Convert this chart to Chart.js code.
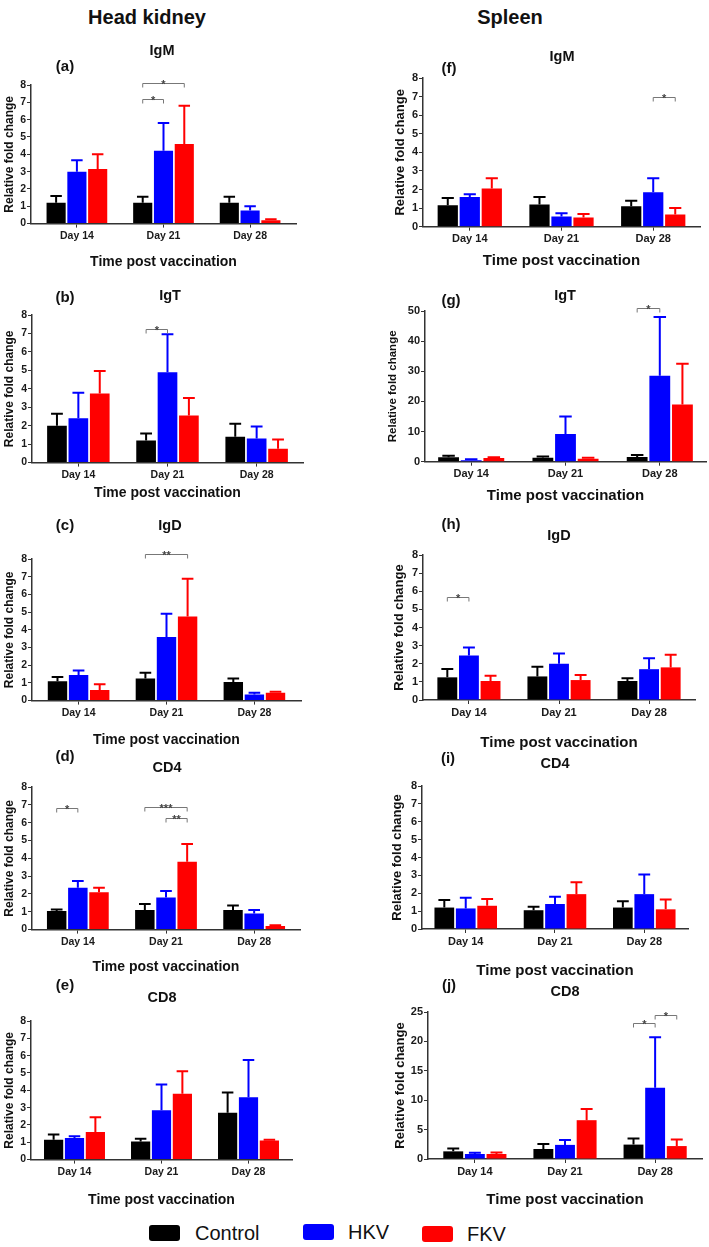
<!DOCTYPE html>
<html>
<head>
<meta charset="utf-8">
<script src="https://cdn.jsdelivr.net/npm/chart.js@4.4.0/dist/chart.umd.min.js"></script>
<style>
  body { margin: 0; background: #fff; font-family: Arial, 'Liberation Sans', sans-serif; }
  #page { position: relative; width: 709px; height: 1247px; overflow: hidden; background: #fff; }
  #page canvas { position: absolute; }
  .lbl { position: absolute; transform: translate(-50%, -50%); font-weight: bold; white-space: nowrap; color: #111; }
  .head { font-size: 20px; }
  .gene { font-size: 14.5px; }
  .letter { font-size: 15px; }
  .key { position: absolute; width: 31px; height: 16px; border-radius: 3px; }
  .keytxt { position: absolute; font-size: 20px; color: #111; transform: translateY(-50%); }
</style>
</head>
<body>
<div id="page"></div>
<script>
// ---- data (rows: Control, HKV, FKV; columns: Day 14, Day 21, Day 28) ----
const days = ['Day 14', 'Day 21', 'Day 28'];
const groups = ['Control', 'HKV', 'FKV'];

// head kidney
const hkIgM    = [[1.2, 1.2, 1.2], [3.0, 4.2, 0.75], [3.15, 4.6, 0.2]];
const hkIgMTop = [[1.6, 1.55, 1.55], [3.65, 5.8, 1.0], [4.0, 6.8, 0.25]];
const hkIgT    = [[2.0, 1.2, 1.4], [2.4, 4.9, 1.3], [3.75, 2.55, 0.75]];
const hkIgTTop = [[2.65, 1.58, 2.1], [3.78, 6.95, 1.95], [4.97, 3.5, 1.25]];
const hkIgD    = [[1.1, 1.25, 1.05], [1.45, 3.6, 0.35], [0.6, 4.75, 0.45]];
const hkIgDTop = [[1.33, 1.58, 1.25], [1.7, 4.9, 0.45], [0.93, 6.88, 0.5]];
const hkCD4    = [[1.05, 1.1, 1.1], [2.35, 1.8, 0.9], [2.1, 3.8, 0.2]];
const hkCD4Top = [[1.13, 1.43, 1.35], [2.73, 2.17, 1.1], [2.35, 4.8, 0.25]];
const hkCD8    = [[1.15, 1.05, 2.7], [1.25, 2.85, 3.6], [1.6, 3.8, 1.1]];
const hkCD8Top = [[1.45, 1.2, 3.87], [1.35, 4.33, 5.75], [2.45, 5.1, 1.15]];

// spleen
const spIgM    = [[1.15, 1.2, 1.1], [1.6, 0.55, 1.85], [2.05, 0.5, 0.65]];
const spIgMTop = [[1.55, 1.6, 1.4], [1.75, 0.72, 2.6], [2.6, 0.68, 1.0]];
const spIgT    = [[1.5, 1.3, 1.6], [0.5, 9.2, 28.5], [1.2, 1.0, 19.0]];
const spIgTTop = [[2.0, 1.7, 2.2], [0.8, 15.0, 48.0], [1.5, 1.3, 32.5]];
const spIgD    = [[1.25, 1.3, 1.05], [2.45, 2.0, 1.7], [1.05, 1.1, 1.8]];
const spIgDTop = [[1.71, 1.84, 1.2], [2.89, 2.57, 2.3], [1.34, 1.38, 2.5]];
const spCD4    = [[1.2, 1.05, 1.2], [1.15, 1.4, 1.95], [1.3, 1.95, 1.1]];
const spCD4Top = [[1.62, 1.25, 1.55], [1.75, 1.81, 3.05], [1.68, 2.61, 1.65]];
const spCD8    = [[1.3, 1.7, 2.45], [0.85, 2.4, 12.1], [0.85, 6.6, 2.2]];
const spCD8Top = [[1.8, 2.55, 3.5], [1.08, 3.25, 20.7], [1.1, 8.5, 3.3]];

// significance brackets: [day index, group a, group b, bracket height, label]
const hkIgMSig = [[1, 0, 1, 7.2, '*'], [1, 0, 2, 8.1, '*']];
const hkIgTSig = [[1, 0, 1, 7.25, '*']];
const hkIgDSig = [[1, 0, 2, 8.3, '**']];
const hkCD4Sig = [[0, 0, 1, 6.8, '*'], [1, 0, 2, 6.9, '***'], [1, 1, 2, 6.25, '**']];
const spIgMSig = [[2, 1, 2, 7.0, '*']];
const spIgTSig = [[2, 0, 1, 51, '*']];
const spIgDSig = [[0, 0, 1, 5.7, '*']];
const spCD8Sig = [[2, 0, 1, 23.2, '*'], [2, 1, 2, 24.5, '*']];

// y-axis ranges
const yMaxes = { a: 8, b: 8, c: 8, d: 8, e: 8, f: 8, g: 50, h: 8, i: 8, j: 25 };
const ySteps = { a: 1, b: 1, c: 1, d: 1, e: 1, f: 1, g: 5, h: 1, i: 1, j: 5 };

const colors = ['#000000', '#0000ff', '#ff0000'];

// ---- panel layout ----
const panels = [
  { id: 'a', gene: 'IgM', mean: hkIgM, top: hkIgMTop, sig: hkIgMSig, axisX: 31, yTop: 85, yZero: 223, xTitleY: 262, spacing: 86.5, lo: 0.53, W: 29, side: 'L', geneXY: [162, 50], letterXY: [65, 65] },
  { id: 'b', gene: 'IgT', mean: hkIgT, top: hkIgTTop, sig: hkIgTSig, axisX: 32, yTop: 315, yZero: 462, xTitleY: 493, spacing: 89, lo: 0.52, W: 30, side: 'L', geneXY: [170, 295], letterXY: [65, 296] },
  { id: 'c', gene: 'IgD', mean: hkIgD, top: hkIgDTop, sig: hkIgDSig, axisX: 32, yTop: 559, yZero: 700, xTitleY: 740, spacing: 87.7, lo: 0.53, W: 30, side: 'L', geneXY: [170, 525], letterXY: [65, 524] },
  { id: 'd', gene: 'CD4', mean: hkCD4, top: hkCD4Top, sig: hkCD4Sig, axisX: 32, yTop: 787, yZero: 929, xTitleY: 967, spacing: 88, lo: 0.52, W: 30, side: 'L', geneXY: [167, 767], letterXY: [65, 755] },
  { id: 'e', gene: 'CD8', mean: hkCD8, top: hkCD8Top, sig: [], axisX: 31, yTop: 1021, yZero: 1159, xTitleY: 1200, spacing: 87, lo: 0.5, W: 29, side: 'L', geneXY: [162, 997], letterXY: [65, 984] },
  { id: 'f', gene: 'IgM', mean: spIgM, top: spIgMTop, sig: spIgMSig, axisX: 423, yTop: 77.7, yZero: 225.7, xTitleY: 260, spacing: 91.5, lo: 0.51, W: 30, side: 'R', geneXY: [562, 56], letterXY: [449, 67] },
  { id: 'g', gene: 'IgT', mean: spIgT, top: spIgTTop, sig: spIgTSig, axisX: 425, yTop: 310.7, yZero: 460.7, xTitleY: 495, spacing: 94, lo: 0.49, W: 39, side: 'R', small: true, geneXY: [565, 295], letterXY: [451, 299] },
  { id: 'h', gene: 'IgD', mean: spIgD, top: spIgDTop, sig: spIgDSig, axisX: 423, yTop: 555, yZero: 700, xTitleY: 743, spacing: 90, lo: 0.51, W: 31, side: 'R', geneXY: [559, 535], letterXY: [451, 523] },
  { id: 'i', gene: 'CD4', mean: spCD4, top: spCD4Top, sig: [], axisX: 422, yTop: 786, yZero: 929, xTitleY: 971, spacing: 89, lo: 0.49, W: 32, side: 'R', geneXY: [555, 763], letterXY: [448, 757] },
  { id: 'j', gene: 'CD8', mean: spCD8, top: spCD8Top, sig: spCD8Sig, axisX: 428, yTop: 1012, yZero: 1159, xTitleY: 1200, spacing: 90, lo: 0.52, W: 35, side: 'R', geneXY: [565, 991], letterXY: [449, 984] }
];

const page = document.getElementById('page');
const FONT = "Arial, 'Liberation Sans', sans-serif";

function addLabel(text, xy, cls) {
  const d = document.createElement('div');
  d.className = 'lbl ' + cls;
  d.textContent = text;
  d.style.left = xy[0] + 'px';
  d.style.top = xy[1] + 'px';
  page.appendChild(d);
}

addLabel('Head kidney', [147, 17], 'head');
addLabel('Spleen', [510, 17], 'head');

// upper error bars with caps
function errorBarPlugin() {
  return {
    id: 'errorBars',
    afterDatasetsDraw(chart) {
      const ctx = chart.ctx;
      const yScale = chart.scales.y;
      chart.data.datasets.forEach((ds, di) => {
        const meta = chart.getDatasetMeta(di);
        meta.data.forEach((bar, i) => {
          const yt = yScale.getPixelForValue(ds.errTop[i]);
          const cap = bar.width * 0.3;
          ctx.save();
          ctx.strokeStyle = ds.backgroundColor;
          ctx.lineWidth = 2;
          ctx.beginPath();
          ctx.moveTo(bar.x, bar.y);
          ctx.lineTo(bar.x, yt);
          ctx.moveTo(bar.x - cap, yt);
          ctx.lineTo(bar.x + cap, yt);
          ctx.stroke();
          ctx.restore();
        });
      });
    }
  };
}

// significance brackets
function bracketPlugin(sig) {
  return {
    id: 'brackets',
    afterDraw(chart) {
      const ctx = chart.ctx;
      const yScale = chart.scales.y;
      sig.forEach(([day, ga, gb, h, label]) => {
        const x1 = chart.getDatasetMeta(ga).data[day].x;
        const x2 = chart.getDatasetMeta(gb).data[day].x;
        const yy = Math.round(yScale.getPixelForValue(h)) + 0.5;
        ctx.save();
        ctx.strokeStyle = '#777';
        ctx.lineWidth = 1;
        ctx.beginPath();
        ctx.moveTo(x1, yy + 4);
        ctx.lineTo(x1, yy);
        ctx.lineTo(x2, yy);
        ctx.lineTo(x2, yy + 4);
        ctx.stroke();
        ctx.fillStyle = '#444';
        ctx.font = 'bold 11px ' + FONT;
        ctx.textAlign = 'center';
        ctx.textBaseline = 'alphabetic';
        ctx.fillText(label, (x1 + x2) / 2, yy + 4);
        ctx.restore();
      });
    }
  };
}

const PT = 30, PR = 6;

panels.forEach(p => {
  const right = p.side === 'R';
  const tickSize = right ? 11 : 10.5;
  const yTitleSize = right ? (p.small ? 11.5 : 13) : 12;
  const xTitleSize = right ? 15 : 14;
  const plotW = p.spacing * (2 + 2 * p.lo);
  const plotH = p.yZero - p.yTop;
  const H = p.xTitleY + xTitleSize * 0.6 - p.yZero;

  const canvas = document.createElement('canvas');
  canvas.width = Math.ceil(p.W + plotW + PR);
  canvas.height = Math.ceil(PT + plotH + H);
  canvas.style.left = (p.axisX - p.W) + 'px';
  canvas.style.top = (p.yTop - PT) + 'px';
  page.appendChild(canvas);

  addLabel(p.gene, p.geneXY, 'gene');
  addLabel('(' + p.id + ')', p.letterXY, 'letter');

  const datasets = groups.map((g, gi) => ({
    label: g,
    data: p.mean[gi].map((v, di) => ({ x: di, y: v })),
    errTop: p.top[gi],
    backgroundColor: colors[gi],
    borderWidth: 0,
    categoryPercentage: 0.72,
    barPercentage: 0.92
  }));

  new Chart(canvas, {
    type: 'bar',
    data: { datasets },
    options: {
      responsive: false,
      animation: false,
      devicePixelRatio: 1,
      layout: { padding: { top: PT, right: PR, left: 0, bottom: 0 } },
      plugins: { legend: { display: false }, tooltip: { enabled: false } },
      scales: {
        x: {
          type: 'linear',
          offset: false,
          min: -p.lo,
          max: 2 + p.lo,
          afterBuildTicks: s => { s.ticks = days.map((d, i) => ({ value: i })); },
          afterFit: s => { s.height = H; },
          ticks: {
            callback: v => days[v],
            color: '#1a1a1a',
            font: { family: FONT, size: tickSize, weight: 'bold' },
            padding: 2,
            maxRotation: 0,
            autoSkip: false
          },
          grid: { drawOnChartArea: false, drawTicks: true, tickLength: 4, color: '#333', offset: false },
          border: { display: true, color: '#333', width: 1.5 },
          title: {
            display: true,
            text: 'Time post vaccination',
            color: '#111',
            font: { family: FONT, size: xTitleSize, weight: 'bold' },
            padding: { top: 0, bottom: 0 }
          }
        },
        y: {
          min: 0,
          max: yMaxes[p.id],
          afterFit: s => { s.width = p.W; },
          ticks: {
            stepSize: ySteps[p.id],
            color: '#1a1a1a',
            font: { family: FONT, size: tickSize, weight: 'bold' },
            padding: 1
          },
          grid: { drawOnChartArea: false, drawTicks: true, tickLength: 4, color: '#333' },
          border: { display: true, color: '#333', width: 1.5 },
          title: {
            display: true,
            text: 'Relative fold change',
            color: '#111',
            font: { family: FONT, size: yTitleSize, weight: 'bold' },
            padding: { top: 0, bottom: 0 }
          }
        }
      }
    },
    plugins: [errorBarPlugin(), bracketPlugin(p.sig)]
  });
});

// legend
const legendItems = [
  { name: 'Control', box: 149, txt: 195, y: 1225 },
  { name: 'HKV', box: 303, txt: 348, y: 1224 },
  { name: 'FKV', box: 422, txt: 467, y: 1226 }
];
legendItems.forEach((it, i) => {
  const b = document.createElement('div');
  b.className = 'key';
  b.style.left = it.box + 'px';
  b.style.top = it.y + 'px';
  b.style.background = colors[i];
  page.appendChild(b);
  const t = document.createElement('div');
  t.className = 'keytxt';
  t.textContent = it.name;
  t.style.left = it.txt + 'px';
  t.style.top = (it.y + 8) + 'px';
  page.appendChild(t);
});
</script>
</body>
</html>
